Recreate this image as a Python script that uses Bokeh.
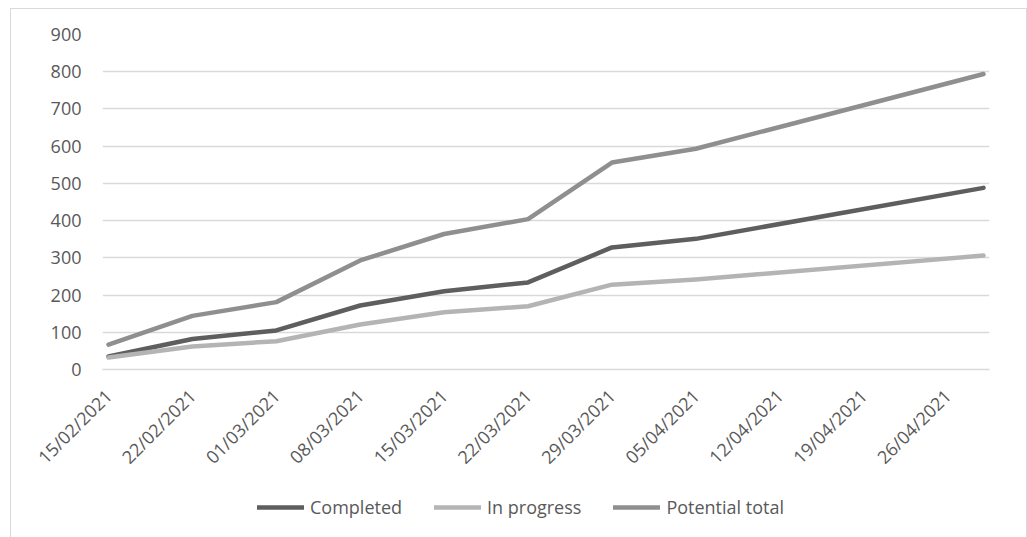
import math
import pandas as pd
from bokeh.plotting import figure
from bokeh.layouts import column
from bokeh.models import (Range1d, FixedTicker, DatetimeTickFormatter, Legend, LegendItem,
                          ColumnDataSource)
from bokeh.embed import file_html
from bokeh.resources import INLINE

# ---- data ----
dates = ["15/02/2021", "22/02/2021", "01/03/2021", "08/03/2021", "15/03/2021",
         "22/03/2021", "29/03/2021", "05/04/2021", "29/04/2021"]
completed = [35, 82, 105, 172, 210, 234, 328, 351, 488]
in_progress = [32, 62, 76, 121, 154, 170, 228, 242, 306]
potential_total = [67, 144, 181, 293, 364, 404, 556, 593, 794]
tick_labels = ["15/02/2021", "22/02/2021", "01/03/2021", "08/03/2021", "15/03/2021",
               "22/03/2021", "29/03/2021", "05/04/2021", "12/04/2021", "19/04/2021",
               "26/04/2021"]
y_ticks = [0, 100, 200, 300, 400, 500, 600, 700, 800, 900]

series_names = ["Completed", "In progress", "Potential total"]
series_colors = ["#5e5e5e", "#b4b4b4", "#8f8f8f"]

x = pd.to_datetime(dates, format="%d/%m/%Y")
tick_dt = pd.to_datetime(tick_labels, format="%d/%m/%Y")
tick_ms = [t.value // 10**6 for t in tick_dt]
half_day = pd.Timedelta(hours=12)

src = ColumnDataSource(dict(x=x, c=completed, i=in_progress, p=potential_total))
cols = ["c", "i", "p"]

FONT = "Open Sans"
TXT = "#595959"
GRID = "#d9d9d9"

# ---------------- main chart ----------------
p = figure(width=1015, height=471, x_axis_type="datetime",
           output_backend="svg", toolbar_location=None,
           x_range=Range1d(x[0] - half_day, x[-1] + half_day),
           y_range=Range1d(0, 900),
           min_border_left=91, min_border_right=37, min_border_top=25,
           min_border_bottom=111)
p.outline_line_color = None
p.background_fill_color = "white"
p.border_fill_color = "white"

p.xgrid.grid_line_color = None
p.ygrid.grid_line_color = GRID
p.ygrid.grid_line_width = 1.3

p.yaxis.ticker = FixedTicker(ticks=y_ticks)
p.yaxis.axis_line_color = None
p.yaxis.major_tick_line_color = None
p.yaxis.minor_tick_line_color = None
p.yaxis.major_label_text_font = FONT
p.yaxis.major_label_text_font_size = "18px"
p.yaxis.major_label_text_color = TXT
p.yaxis.major_label_standoff = 15

p.xaxis.ticker = FixedTicker(ticks=tick_ms)
fmt = "%d/%m/%Y"
p.xaxis.formatter = DatetimeTickFormatter(milliseconds=fmt, seconds=fmt, minsec=fmt,
                                          minutes=fmt, hourmin=fmt, hours=fmt, days=fmt,
                                          months=fmt, years=fmt)
p.xaxis.axis_line_color = GRID
p.xaxis.axis_line_width = 1.3
p.xaxis.major_tick_line_color = None
p.xaxis.minor_tick_line_color = None
p.xaxis.major_label_orientation = math.pi / 4
p.xaxis.major_label_text_font = FONT
p.xaxis.major_label_text_font_size = "18px"
p.xaxis.major_label_text_color = TXT
p.xaxis.major_label_standoff = 17

for col, color in zip(cols, series_colors):
    p.line("x", col, source=src, line_color=color, line_width=4.5,
           line_cap="round", line_join="round")

# ---------------- legend strip ----------------
p2 = figure(width=1015, height=57, x_axis_type="datetime",
            output_backend="svg", toolbar_location=None,
            x_axis_location=None, y_axis_location=None,
            x_range=Range1d(x[0] - half_day, x[-1] + half_day),
            y_range=Range1d(-2000, -1000),
            min_border=0)
p2.outline_line_color = None
p2.grid.visible = False
p2.background_fill_color = "white"
p2.border_fill_color = "white"

leg_renderers = []
for col, color in zip(cols, series_colors):
    r = p2.line("x", col, source=src, line_color=color, line_width=4.5,
                line_cap="round", line_join="round")
    leg_renderers.append(r)

legend = Legend(items=[LegendItem(label=n, renderers=[r])
                       for n, r in zip(series_names, leg_renderers)],
                orientation="horizontal", location=(155, 18))
legend.label_text_font = FONT
legend.label_text_font_size = "18px"
legend.label_text_color = TXT
legend.glyph_width = 47
legend.glyph_height = 20
legend.label_height = 20
legend.label_standoff = 6
legend.spacing = 32
legend.padding = 0
legend.margin = 0
legend.border_line_color = None
legend.background_fill_alpha = 0
p2.add_layout(legend, "center")

layout = column(p, p2, spacing=0)
layout.styles = {"margin-left": "10px", "margin-top": "8px",
                 "border-left": "1px solid #d9d9d9", "border-top": "1px solid #d9d9d9",
                 "border-right": "1px solid #d9d9d9"}

open("out.html", "w").write(file_html(layout, INLINE))
